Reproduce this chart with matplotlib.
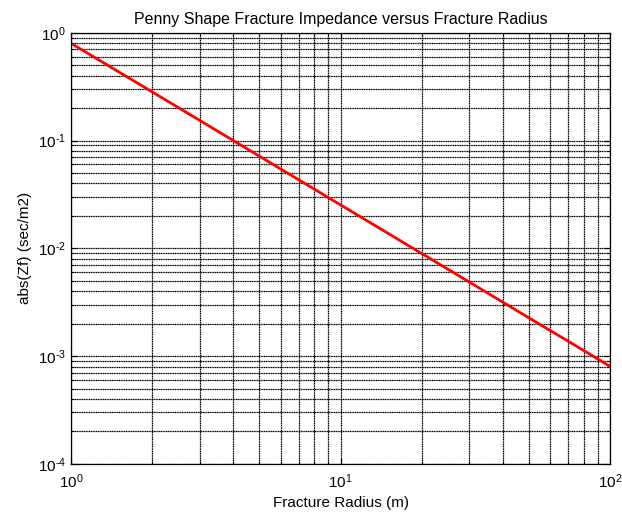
import math
import matplotlib
matplotlib.use("Agg")
import matplotlib.pyplot as plt
from matplotlib.ticker import LogLocator, NullFormatter, FuncFormatter

plt.rcParams['font.family'] = ['Liberation Sans', 'DejaVu Sans']
plt.rcParams['mathtext.fontset'] = 'custom'
plt.rcParams['mathtext.rm'] = 'Liberation Sans'
plt.rcParams['mathtext.it'] = 'Liberation Sans:italic'
plt.rcParams['axes.unicode_minus'] = False

# fracture radius (m) and impedance magnitude (sec/m2)
radius = [1, 2, 3, 4, 5, 6, 7, 8, 9, 10,
          20, 30, 40, 50, 60, 70, 80, 90, 100]
abs_zf = [0.80, 0.283, 0.154, 0.100, 0.0716, 0.0544, 0.0432, 0.0354, 0.0296, 0.0253,
          0.00894, 0.00487, 0.00316, 0.00226, 0.00172, 0.00137, 0.00112, 0.000937, 0.0008]


def pow_label(v, pos):
    e = int(round(math.log10(v)))
    # plain hyphen in the exponent, like the old-style labels
    return r'$\mathregular{10^{\text{%d}}}$' % e


fig = plt.figure(figsize=(6.22, 5.2), dpi=100)
ax = fig.add_axes([0.114, 0.108, 0.867, 0.829])

ax.loglog(radius, abs_zf, color='red', linewidth=2.0)

ax.set_xlim(1, 100)
ax.set_ylim(1e-4, 1)
ax.xaxis.set_major_locator(LogLocator(base=10, numticks=10))
ax.yaxis.set_major_locator(LogLocator(base=10, numticks=10))
ax.xaxis.set_minor_locator(LogLocator(base=10, subs=range(2, 10), numticks=20))
ax.yaxis.set_minor_locator(LogLocator(base=10, subs=range(2, 10), numticks=20))
ax.xaxis.set_major_formatter(FuncFormatter(pow_label))
ax.yaxis.set_major_formatter(FuncFormatter(pow_label))
ax.xaxis.set_minor_formatter(NullFormatter())
ax.yaxis.set_minor_formatter(NullFormatter())

ax.grid(True, which='both', color='black', linestyle=(0, (1, 0.4)), linewidth=0.9)
ax.tick_params(which='both', direction='in', top=True, right=True, labelsize=11)
ax.tick_params(axis='x', which='major', pad=6)
ax.tick_params(which='major', length=4)
ax.tick_params(which='minor', length=2)
for s in ax.spines.values():
    s.set_linewidth(0.9)

ax.set_title('Penny Shape Fracture Impedance versus Fracture Radius', fontsize=11.5)
ax.set_xlabel('Fracture Radius (m)', fontsize=11)
ax.set_ylabel('abs(Zf) (sec/m2)', fontsize=11)

fig.savefig('out.png', dpi=100)
